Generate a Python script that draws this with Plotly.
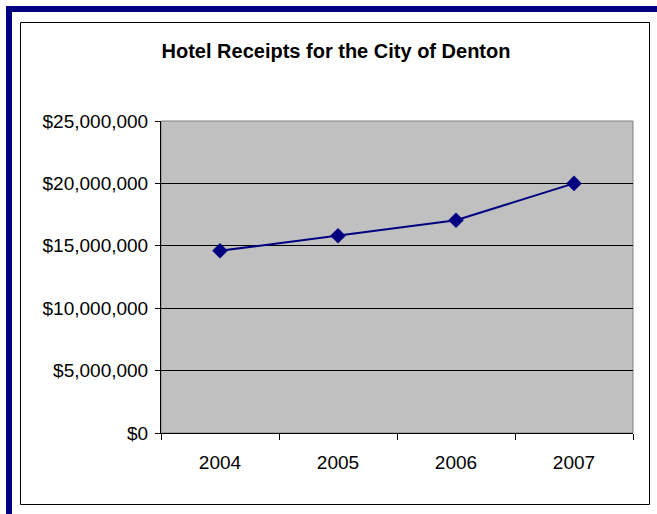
import plotly.graph_objects as go

years = ["2004", "2005", "2006", "2007"]
receipts = [14600000, 15800000, 17050000, 20000000]
title_text = "Hotel Receipts for the City of Denton"

W, H = 657, 514
L, R, T, B = 161, 633, 121, 433

def px(x):
    return (x - L) / (R - L)

def py(y):
    return (B - y) / (B - T)

fig = go.Figure()
fig.add_trace(go.Scatter(
    x=years, y=receipts, mode="lines+markers",
    line=dict(color="#000080", width=2),
    marker=dict(symbol="diamond", size=12, color="#000080"),
    showlegend=False, cliponaxis=False,
))

shapes = [
    # navy outer frame
    dict(type="rect", xref="paper", yref="paper", x0=px(9), x1=px(720), y0=py(9), y1=py(600),
         line=dict(color="#000080", width=6), fillcolor="rgba(0,0,0,0)", layer="below"),
    # inner chart box
    dict(type="rect", xref="paper", yref="paper", x0=px(20.5), x1=px(649.5), y0=py(22.5), y1=py(504.5),
         line=dict(color="#000000", width=1), fillcolor="rgba(0,0,0,0)", layer="below"),
    # plot area border
    dict(type="rect", xref="paper", yref="paper", x0=0, x1=1, y0=0, y1=1,
         line=dict(color="#808080", width=1), fillcolor="rgba(0,0,0,0)", layer="below"),
]

fig.update_layout(
    width=W, height=H,
    margin=dict(l=L, r=W - R, t=T, b=H - B, pad=0),
    paper_bgcolor="white", plot_bgcolor="#C0C0C0",
    font=dict(family="Liberation Sans, Arial, sans-serif", color="black", size=19),
    title=dict(text="<b>" + title_text + "</b>", xref="container", yref="container",
               x=336 / W, xanchor="center",
               y=1 - 51 / H, yanchor="middle", font=dict(size=20, color="black")),
    shapes=shapes,
    xaxis=dict(type="category", range=[-0.5, 3.5], tickson="boundaries", ticks="outside",
               ticklen=6, tickcolor="black", tickwidth=1, showgrid=False, zeroline=False,
               showline=True, linecolor="black", linewidth=1, tickfont=dict(size=19),
               ticklabelstandoff=12),
    yaxis=dict(range=[0, 25000000], dtick=5000000, tickformat="$,.0f", ticks="outside",
               ticklen=5, tickcolor="black", showgrid=True, gridcolor="black", gridwidth=1,
               zeroline=False, showline=True, linecolor="black", linewidth=1,
               tickfont=dict(size=19), ticklabelstandoff=3),
)

fig.write_html("out.html")
